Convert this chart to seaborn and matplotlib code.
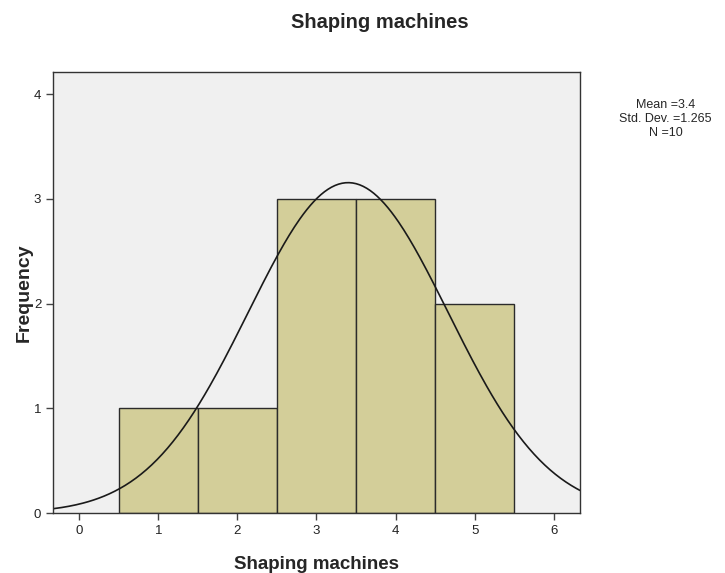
import numpy as np
import pandas as pd
import matplotlib
matplotlib.use('Agg')
import matplotlib.pyplot as plt
import seaborn as sns

scores = [1, 2, 3, 3, 3, 4, 4, 4, 5, 5]
bin_edges = [0.5, 1.5, 2.5, 3.5, 4.5, 5.5]
x_ticks = [0, 1, 2, 3, 4, 5, 6]
y_ticks = [0, 1, 2, 3, 4]

df = pd.DataFrame({'Shaping machines': scores})
mean = df['Shaping machines'].mean()
sd = df['Shaping machines'].std()
n = len(df)

sns.set_style('white')
plt.rcParams['font.family'] = ['Liberation Sans', 'DejaVu Sans']

fig = plt.figure(figsize=(7.25, 5.73), dpi=100)
ax = fig.add_axes([0.0731, 0.1047, 0.7269, 0.7696])
ax.set_facecolor('#F0F0F0')

sns.histplot(data=df, x='Shaping machines', bins=bin_edges, stat='count',
             color='#D3CE99', alpha=1, edgecolor='#2b2b2b', linewidth=1, ax=ax)

# fitted normal curve scaled to counts
xs = np.linspace(-0.33, 6.33, 300)
ys = n * 1.0 * np.exp(-0.5 * ((xs - mean) / sd) ** 2) / (sd * np.sqrt(2 * np.pi))
sns.lineplot(x=xs, y=ys, color='#1a1a1a', linewidth=1.2, ax=ax)

ax.set_xlim(-0.33, 6.33)
ax.set_ylim(0, 4.21)
ax.set_xticks(x_ticks)
ax.set_yticks(y_ticks)
ax.tick_params(direction='out', length=5, width=1, color='#444444',
               labelsize=9.5, labelcolor='#222222', bottom=True, left=True)
for sp in ax.spines.values():
    sp.set_color('#333333')
    sp.set_linewidth(1)

ax.set_xlabel('Shaping machines', fontsize=13.5, fontweight='bold', labelpad=14)
ax.set_ylabel('Frequency', fontsize=14, fontweight='bold')
ax.yaxis.set_label_coords(-0.038, 0.5)

fig.text(0.524, 0.96, 'Shaping machines', ha='center', va='center',
         fontsize=14.5, fontweight='bold')
fig.text(0.918, 0.792, f'Mean ={mean:.1f}\nStd. Dev. ={sd:.3f}\nN ={n}',
         ha='center', va='center', fontsize=9, linespacing=1.2)

fig.savefig('out.png', dpi=100)
